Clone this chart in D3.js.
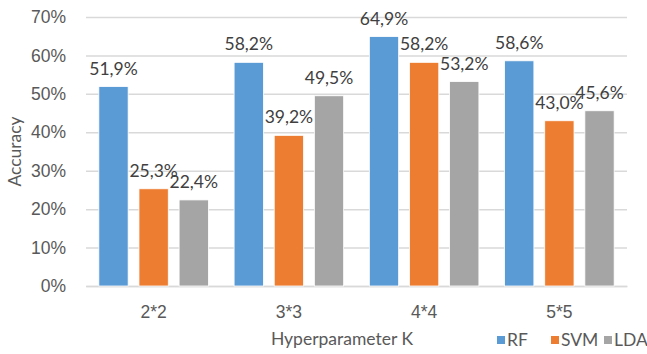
<!DOCTYPE html>
<html>
<head>
<meta charset="utf-8">
<script src="https://cdn.jsdelivr.net/npm/d3@7"></script>
<style>
  html, body { margin: 0; padding: 0; background: #fff; }
  svg { display: block; font-family: Lato, "Open Sans", sans-serif; }
</style>
</head>
<body>
<svg id="chart" width="647" height="354"></svg>
<script>
// Accuracy per hyperparameter K for each classifier
const categories = ["2*2", "3*3", "4*4", "5*5"];
const seriesNames = ["RF", "SVM", "LDA"];
const rfValues  = [51.9, 58.2, 64.9, 58.6];
const svmValues = [25.3, 39.2, 58.2, 43.0];
const ldaValues = [22.4, 49.5, 53.2, 45.6];
const yTicks = [0, 10, 20, 30, 40, 50, 60, 70];

const seriesValues = [rfValues, svmValues, ldaValues];
const colors = { RF: "#5B9BD5", SVM: "#ED7D31", LDA: "#A5A5A5" };

const svg = d3.select("#chart");
const margin = { left: 86, right: 20, top: 17, bottom: 68 };
const W = 647, H = 354;
const FS = "17.5px";

const x0 = d3.scaleBand()
  .domain(categories)
  .range([margin.left, W - margin.right])
  .paddingInner(0.19)
  .paddingOuter(0.095);

const x1 = d3.scaleBand()
  .domain(seriesNames)
  .range([0, x0.bandwidth()])
  .paddingInner(0.27);

const y = d3.scaleLinear()
  .domain([0, 70])
  .range([H - margin.bottom, margin.top]);

const locale = d3.formatLocale({ decimal: ",", thousands: ".", grouping: [3], currency: ["", ""] });
const fmt = v => locale.format(".1f")(v) + "%";

// Horizontal gridlines and y tick labels
const yAxis = d3.axisLeft(y)
  .tickValues(yTicks)
  .tickSize(-(W - margin.left - margin.right))
  .tickPadding(20)
  .tickFormat(d => d + "%");

const gy = svg.append("g")
  .attr("transform", `translate(${margin.left},0)`)
  .call(yAxis);
gy.select(".domain").remove();
gy.selectAll(".tick line").attr("stroke", "#D9D9D9").attr("stroke-width", 1.5);
gy.selectAll(".tick text")
  .attr("fill", "#595959")
  .style("font-size", FS);

// Category axis
const gx = svg.append("g")
  .attr("transform", `translate(0,${y(0)})`)
  .call(d3.axisBottom(x0).tickSize(0).tickPadding(20));
gx.select(".domain").attr("stroke", "#D9D9D9").attr("stroke-width", 1.5);
gx.selectAll(".tick text")
  .attr("fill", "#595959")
  .style("font-size", FS);

// Bars
const rows = categories.map((c, i) => ({
  cat: c,
  items: seriesNames.map((s, j) => ({ series: s, value: seriesValues[j][i] }))
}));

const groups = svg.append("g").selectAll("g")
  .data(rows)
  .join("g")
  .attr("transform", d => `translate(${x0(d.cat)},0)`);

groups.selectAll("rect")
  .data(d => d.items)
  .join("rect")
  .attr("x", d => x1(d.series))
  .attr("y", d => y(d.value))
  .attr("width", x1.bandwidth())
  .attr("height", d => y(0) - y(d.value))
  .attr("fill", d => colors[d.series])
  .attr("stroke", "#fff")
  .attr("stroke-width", 0.8);

// Value labels
groups.selectAll("text.val")
  .data(d => d.items)
  .join("text")
  .attr("class", "val")
  .attr("x", d => x1(d.series) + x1.bandwidth() / 2)
  .attr("y", d => y(d.value) - 12)
  .attr("text-anchor", "middle")
  .attr("fill", "#404040")
  .style("font-size", FS)
  .text(d => fmt(d.value));

// Axis titles
svg.append("text")
  .attr("transform", `translate(21,${(y(0) + y(70)) / 2}) rotate(-90)`)
  .attr("text-anchor", "middle")
  .attr("fill", "#595959")
  .style("font-size", FS)
  .text("Accuracy");

svg.append("text")
  .attr("x", 342)
  .attr("y", 345)
  .attr("text-anchor", "middle")
  .attr("fill", "#595959")
  .style("font-size", FS)
  .text("Hyperparameter K");

// Legend
const legendX = [497, 551, 604];
const legend = svg.append("g").selectAll("g")
  .data(seriesNames)
  .join("g")
  .attr("transform", (d, i) => `translate(${legendX[i]},${340})`);
legend.append("rect")
  .attr("x", 0).attr("y", -4)
  .attr("width", 8).attr("height", 8)
  .attr("fill", d => colors[d]);
legend.append("text")
  .attr("x", 10).attr("y", 6)
  .attr("fill", "#595959")
  .style("font-size", FS)
  .text(d => d);
</script>
</body>
</html>
